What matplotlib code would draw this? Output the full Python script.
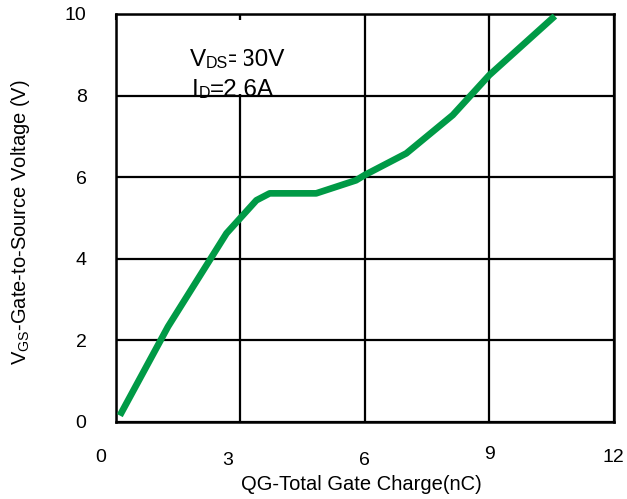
import matplotlib
matplotlib.use('Agg')
import matplotlib.pyplot as plt
from matplotlib.patches import Rectangle

# data
qg = [0.1, 1.26, 2.67, 3.39, 3.71, 4.83, 5.79, 6.0, 7.0, 8.12, 9.0, 10.58]
vgs = [0.15, 2.33, 4.62, 5.43, 5.6, 5.6, 5.92, 6.05, 6.58, 7.52, 8.5, 9.95]
x_ticks = [0, 3, 6, 9, 12]
x_tick_labels = ['0', '3', '6', '9', '12']
y_ticks = [0, 2, 4, 6, 8, 10]
y_tick_labels = ['0', '2', '4', '6', '8', '10']

plt.rcParams['font.family'] = ['Liberation Sans', 'DejaVu Sans']
plt.rcParams['mathtext.fontset'] = 'custom'
plt.rcParams['mathtext.rm'] = 'Liberation Sans'

fig = plt.figure(figsize=(6.27, 4.99), dpi=100)
ax = fig.add_axes([0.1845, 0.155, 0.7945, 0.817])

ax.plot(qg, vgs, color='#009A46', lw=4.8, solid_capstyle='butt',
        solid_joinstyle='round', zorder=4)

ax.set_xlim(0, 12)
ax.set_ylim(0, 10)
ax.set_xticks(x_ticks)
ax.set_yticks(y_ticks)
ax.set_xticklabels([])
ax.set_yticklabels(y_tick_labels, fontsize=14)
ax.tick_params(axis='y', length=0, pad=21)
ax.tick_params(axis='x', bottom=False, top=True, direction='in', length=4, width=1.5)
ax.grid(True, color='black', lw=1.6)
for sp in ax.spines.values():
    sp.set_linewidth(1.8)

# x tick labels (slightly irregular placement as in the reference)
dxs = [-15, -13, 0, 0, 0]
dys = [-36, -39, -39, -33, -36]
for v, lab, dx, dy in zip(x_ticks, x_tick_labels, dxs, dys):
    ax.annotate(lab, xy=(v, 0), xycoords=('data', 'axes fraction'),
                xytext=(dx, dy), textcoords='offset pixels',
                ha='center', va='center', fontsize=14, annotation_clip=False)

# gap in the vertical grid line behind the annotation
ax.add_patch(Rectangle((2.9, 8.04), 0.2, 1.8, facecolor='white',
                       edgecolor='none', zorder=1.7))

# annotation
t1 = ax.text(1.79, 8.73, 'V', fontsize=17.5, va='baseline', zorder=1)
t2 = ax.annotate('DS', xy=(1, 0), xycoords=t1, fontsize=11.5, ha='left', va='bottom', zorder=1)
ax.annotate('=30V', xy=(1, 0), xycoords=t2, fontsize=17.5, ha='left', va='bottom', zorder=1)
u1 = ax.text(1.83, 7.98, 'I', fontsize=17.5, va='baseline', zorder=1)
u2 = ax.annotate('D', xy=(1, 0), xycoords=u1, fontsize=11.5, ha='left', va='bottom', zorder=1)
ax.annotate('=2.6A', xy=(1, 0), xycoords=u2, fontsize=17.5, ha='left', va='bottom', zorder=1)

ax.set_xlabel('QG-Total Gate Charge(nC)', fontsize=14.5, va='center')
ax.xaxis.set_label_coords(0.494, -0.153)
ax.set_ylabel(r'V$_{\mathregular{GS}}$-Gate-to-Source Voltage (V)', fontsize=14.5, va='center')
ax.yaxis.set_label_coords(-0.192, 0.49)

fig.savefig('out.png', dpi=100)
